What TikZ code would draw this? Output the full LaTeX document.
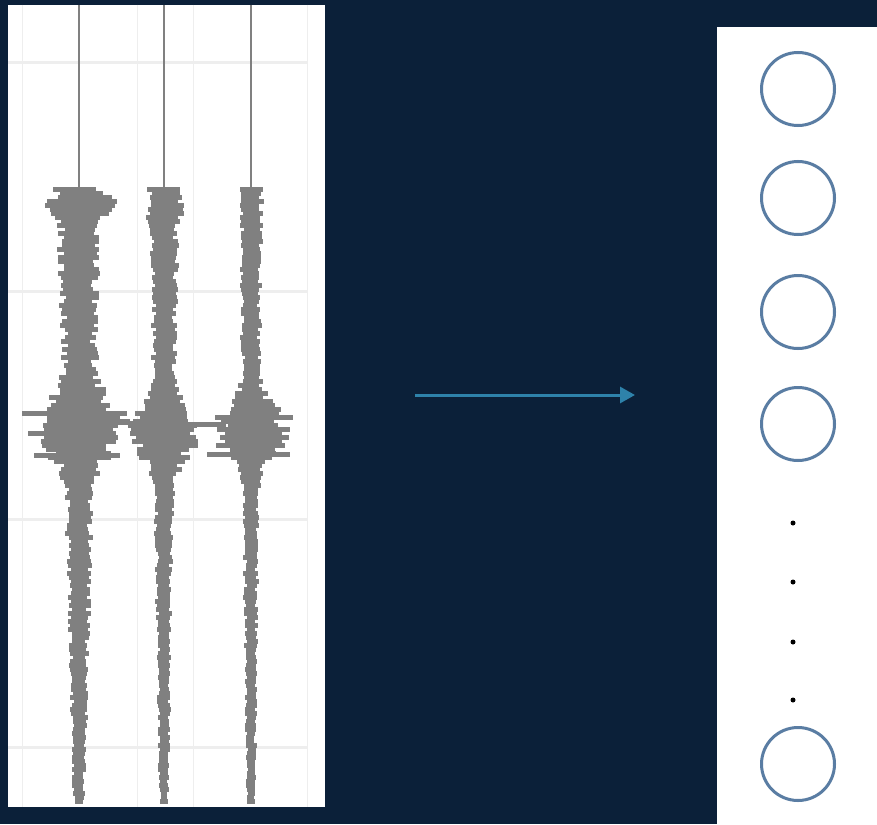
\documentclass[tikz,border=0pt]{standalone}
\usetikzlibrary{arrows.meta}
\definecolor{navy}{HTML}{0B2039}
\definecolor{tracec}{HTML}{808080}
\definecolor{gridc}{HTML}{EEEEEE}
\definecolor{arrowc}{HTML}{2E82AA}
\definecolor{ringc}{HTML}{5A7DA3}
\tikzset{
  ring/.style={circle, draw=ringc, line width=3pt, minimum size=73pt, inner sep=0pt, fill=white},
  dotn/.style={circle, fill=black, minimum size=5pt, inner sep=0pt},
  gridv/.style={gridc, line width=1pt},
  gridh/.style={gridc, line width=3pt},
  flow/.style={arrowc, line width=3pt, -{Triangle[length=15pt,width=16pt]}},
}
% #1 centre x, #2 base half-width at top, #3 base half-width at bottom,
% #4 onset burst amplitude, #5 main burst amplitude, #6 main burst spread, #7 main burst centre
\newcommand\seistrace[7]{%
  \fill[tracec] (#1-1.25,5) rectangle (#1+1.25,190);
  \foreach \yy in {187,191,...,800}{%
    \pgfmathsetmacro\hh{#2-(#2-#3)*(\yy-187)/620 + #4*exp(max(-9,-((\yy-205)/15)^2)) + #5*exp(max(-9,-((\yy-#7)/#6)^2))}%
    \pgfmathsetmacro\lx{#1-\hh*(0.7+0.55*rnd)}%
    \pgfmathsetmacro\rx{#1+\hh*(0.7+0.55*rnd)}%
    \fill[tracec] (\lx,\yy) rectangle (\rx,\yy+5);
  }%
}
\begin{document}
\begin{tikzpicture}[x=1pt,y=-1pt]
\useasboundingbox (0,0) rectangle (877,824);
\fill[navy] (0,0) rectangle (877,824);
% left panel
\fill[white] (8,5) rectangle (325,807);
\foreach \gx in {22,137,193,307}{\draw[gridv] (\gx,5) -- (\gx,807);}
\foreach \gy in {63,291,519,747}{\draw[gridh] (8,\gy) -- (307,\gy);}
\pgfmathsetseed{7}
\seistrace{79}{19}{5}{14}{30}{34}{425}
\seistrace{164}{13}{4}{4}{24}{32}{428}
\seistrace{251}{10}{4}{1}{26}{30}{428}
% long bars of the main bursts
\fill[tracec] (22,411) rectangle (120,416);
\fill[tracec] (34,453) rectangle (120,458);
\fill[tracec] (100,421) rectangle (140,425);
\fill[tracec] (186,422) rectangle (226,427);
\fill[tracec] (207,452) rectangle (290,457);
\fill[tracec] (215,415) rectangle (293,420);
% arrow
\coordinate (as) at (415,395);
\coordinate (ae) at (635,395);
\draw[flow] (as) -- (ae);
% right panel
\fill[white] (717,27) rectangle (877,824);
\node[ring] (c1) at (798,89) {};
\node[ring] (c2) at (798,198) {};
\node[ring] (c3) at (798,312) {};
\node[ring] (c4) at (798,424) {};
\node[dotn] (d1) at (793,523) {};
\node[dotn] (d2) at (793,582) {};
\node[dotn] (d3) at (793,642) {};
\node[dotn] (d4) at (793,700) {};
\node[ring] (c5) at (798,764) {};
\end{tikzpicture}
\end{document}
